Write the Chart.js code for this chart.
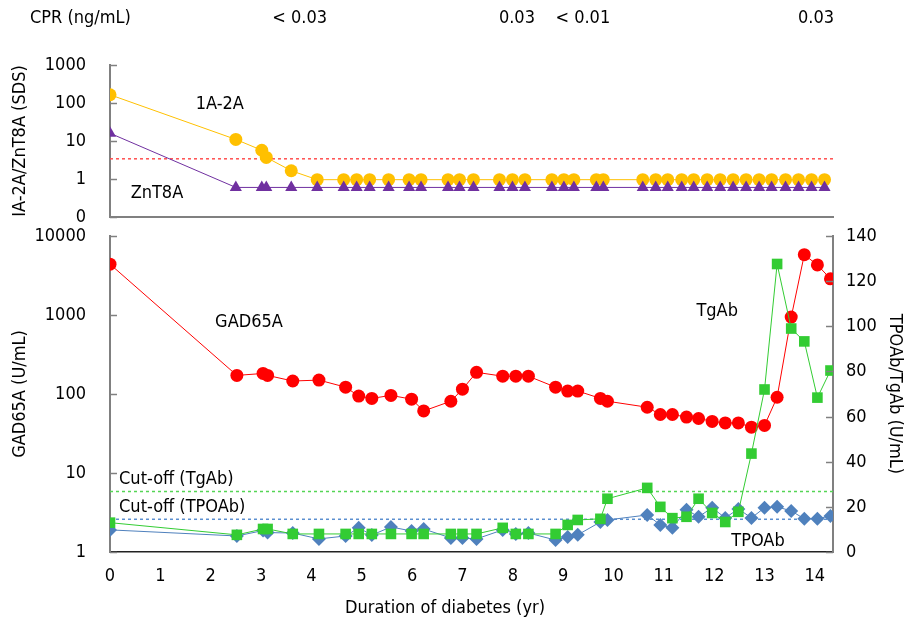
<!DOCTYPE html>
<html>
<head>
<meta charset="utf-8">
<script src="https://cdn.jsdelivr.net/npm/chart.js@4.4.1/dist/chart.umd.min.js"></script>
<style>
  body { margin: 0; background: #fff; }
  #wrap { position: relative; width: 915px; height: 621px; }
  #topBox { position: absolute; left: 0; top: 0; width: 915px; height: 235px; }
  #botBox { position: absolute; left: 0; top: 215px; width: 915px; height: 406px; }
</style>
</head>
<body>
<div id="wrap">
  <div id="topBox"><canvas id="topChart"></canvas></div>
  <div id="botBox"><canvas id="botChart"></canvas></div>
</div>
<script>
// sampling times (years since diagnosis)
const days = [0, 2.52, 3.04, 3.13, 3.63, 4.15, 4.68, 4.94, 5.20, 5.58, 5.99, 6.23, 6.77, 7.00, 7.28, 7.80, 8.06, 8.31, 8.85,
  9.09, 9.29, 9.74, 9.88, 10.67, 10.93, 11.17, 11.45, 11.69, 11.96, 12.22, 12.48, 12.74, 13.00, 13.25, 13.53, 13.79, 14.05, 14.31];

// top panel (SDS)
const ia2a = [165, 11, 5.7, 3.7, 1.65, 0.96, 0.96, 0.96, 0.96, 0.96, 0.96, 0.96, 0.96, 0.96, 0.96, 0.96, 0.96, 0.96, 0.96,
  0.96, 0.96, 0.96, 0.96, 0.96, 0.96, 0.96, 0.96, 0.96, 0.96, 0.96, 0.96, 0.96, 0.96, 0.96, 0.96, 0.96, 0.96, 0.96];
const znt8a = [16, 0.6, 0.6, 0.6, 0.6, 0.6, 0.6, 0.6, 0.6, 0.6, 0.6, 0.6, 0.6, 0.6, 0.6, 0.6, 0.6, 0.6, 0.6,
  0.6, 0.6, 0.6, 0.6, 0.6, 0.6, 0.6, 0.6, 0.6, 0.6, 0.6, 0.6, 0.6, 0.6, 0.6, 0.6, 0.6, 0.6, 0.6];
const ia2aCutoff = 3.4;

// bottom panel (U/mL)
const gad65a = [4400, 172, 182, 172, 146, 150, 122, 94, 88, 96, 86, 61, 81, 115, 188, 168, 168, 168, 122,
  109, 109, 88, 81, 68, 55, 55, 51, 49, 45, 43, 43, 38, 40, 91, 940, 5800, 4300, 2870];
const tgab = [13, 7.6, 10.2, 10.2, 8, 8, 8, 8, 8, 8, 8, 8, 8, 8, 8, 10.7, 8, 8, 8,
  12, 14.2, 14.7, 23.6, 28.4, 20, 15, 15.6, 23.6, 17.3, 13.3, 17.8, 43.6, 72, 127.6, 99, 93.3, 68.4, 80.4];
const tpoab = [9.8, 7.1, 9.5, 8.6, 8.4, 5.8, 7.1, 10.7, 7.5, 11.1, 9.3, 10.2, 6.2, 6.2, 5.8, 9.8, 8, 8.4, 5.3,
  6.7, 7.6, 13.3, 14.2, 16.4, 12, 10.7, 18.7, 15.6, 19.6, 15.1, 19.1, 15.1, 19.6, 20, 18.2, 14.7, 14.7, 16];
const tgabCutoff = 26.8;
const tpoabCutoff = 14.5;

// CPR row above the chart
const cprDays = [3.8, 8.15, 9.47, 14.14];
const cprLabels = ['< 0.03', '0.03', '< 0.01', '0.03'];

const topTicks = [0.1, 1, 10, 100, 1000];
const topTickLabels = ['0', '1', '10', '100', '1000'];
const gadTicks = [1, 10, 100, 1000, 10000];
const thyroidTicks = [0, 20, 40, 60, 80, 100, 120, 140];
const xTicks = [0, 1, 2, 3, 4, 5, 6, 7, 8, 9, 10, 11, 12, 13, 14];

const FONT = "'DejaVu Sans Condensed', 'DejaVu Sans', sans-serif";
Chart.defaults.font.family = FONT;
Chart.defaults.font.size = 18;
Chart.defaults.color = '#000';

const topMax = 14.48;
const botMax = 14.36;

function pts(xs, ys) {
  return xs.map((x, i) => ({ x: x, y: ys[i] }));
}

// y axes: short inward tick marks plus the labels, drawn by hand
const yAxisMarks = {
  id: 'yAxisMarks',
  afterDraw(chart) {
    const ctx = chart.ctx;
    ctx.save();
    ctx.strokeStyle = '#808080';
    ctx.lineWidth = 1.5;
    ctx.fillStyle = '#000';
    ctx.font = '18px ' + FONT;
    ctx.textBaseline = 'middle';
    Object.values(chart.scales).forEach(s => {
      if (s.axis !== 'y') return;
      const left = s.position === 'left';
      const edge = left ? s.right : s.left;
      const names = s.options.tickNames;
      ctx.textAlign = left ? 'right' : 'left';
      s.ticks.forEach((t, i) => {
        const y = Math.round(s.getPixelForValue(t.value)) + 0.5;
        ctx.beginPath();
        ctx.moveTo(edge, y);
        ctx.lineTo(edge + (left ? 7 : -7), y);
        ctx.stroke();
        ctx.fillText(names ? names[i] : String(t.value), left ? edge - 24 : edge + 13, y);
      });
    });
    ctx.restore();
  }
};

function notes(list) {
  return {
    id: 'notes',
    afterDatasetsDraw(chart) {
      const ctx = chart.ctx;
      ctx.save();
      ctx.fillStyle = '#000';
      ctx.font = '18px ' + FONT;
      ctx.textBaseline = 'middle';
      list.forEach(n => {
        const px = n.px !== undefined ? n.px : chart.scales.x.getPixelForValue(n.x);
        const py = n.py !== undefined ? n.py : chart.scales[n.axis].getPixelForValue(n.y);
        ctx.textAlign = n.align || 'center';
        ctx.fillText(n.text, px, py);
      });
      ctx.restore();
    }
  };
}

function cutLine(value, color, max, axis) {
  return {
    data: [{ x: 0, y: value }, { x: max, y: value }],
    yAxisID: axis,
    borderColor: color,
    borderWidth: 1.5,
    borderDash: [3, 3],
    pointRadius: 0,
    fill: false
  };
}

const topNotes = [{ text: 'CPR (ng/mL)', px: 30, py: 18, align: 'left' }]
  .concat(cprDays.map((d, i) => ({ text: cprLabels[i], x: d, py: 18 })))
  .concat([
    { text: '1A-2A', x: 2.2, y: 92, axis: 'y' },
    { text: 'ZnT8A', x: 0.94, y: 0.41, axis: 'y' }
  ]);

new Chart(document.getElementById('topChart'), {
  type: 'line',
  data: {
    datasets: [
      {
        data: pts(days, znt8a),
        borderColor: '#7030A0', backgroundColor: '#7030A0', borderWidth: 1,
        pointStyle: 'triangle', pointRadius: 7, pointBorderWidth: 0
      },
      {
        data: pts(days, ia2a),
        borderColor: '#FFC000', backgroundColor: '#FFC000', borderWidth: 1,
        pointStyle: 'circle', pointRadius: 6.5, pointBorderWidth: 0
      },
      cutLine(ia2aCutoff, '#FF5050', topMax, 'y')
    ]
  },
  options: {
    responsive: true,
    maintainAspectRatio: false,
    animation: false,
    layout: { padding: { top: 65, right: 82, bottom: 18, left: 0 } },
    plugins: { legend: { display: false }, tooltip: { enabled: false } },
    scales: {
      x: {
        type: 'linear', min: 0, max: topMax,
        ticks: { display: false },
        grid: { display: false, drawTicks: false },
        border: { color: '#808080', width: 2 },
        afterFit(s) { s.height = 0; }
      },
      y: {
        type: 'logarithmic', min: 0.1, max: 1000,
        tickNames: topTickLabels,
        afterBuildTicks(s) { s.ticks = topTicks.map(v => ({ value: v })); },
        ticks: { display: false },
        grid: { display: false, drawTicks: false },
        border: { color: '#808080', width: 2 },
        title: { display: true, text: 'IA-2A/ZnT8A (SDS)', padding: { top: 10 } },
        afterFit(s) { s.width = 110; }
      }
    }
  },
  plugins: [yAxisMarks, notes(topNotes)]
});

const botNotes = [
  { text: 'GAD65A', x: 2.76, y: 815, axis: 'y' },
  { text: 'TgAb', x: 12.06, y: 106.7, axis: 'y2' },
  { text: 'Cut-off (TgAb)', x: 0.18, y: 32, axis: 'y2', align: 'left' },
  { text: 'Cut-off (TPOAb)', x: 0.18, y: 19.6, axis: 'y2', align: 'left' },
  { text: 'TPOAb', x: 12.87, y: 4.9, axis: 'y2' },
  { text: 'Duration of diabetes (yr)', px: 445, py: 393 }
];

new Chart(document.getElementById('botChart'), {
  type: 'line',
  data: {
    datasets: [
      {
        data: pts(days, tgab), yAxisID: 'y2',
        borderColor: '#33CC33', backgroundColor: '#33CC33', borderWidth: 1,
        pointStyle: 'rect', pointRadius: 7.5, pointBorderWidth: 0
      },
      {
        data: pts(days, tpoab), yAxisID: 'y2',
        borderColor: '#4F81BD', backgroundColor: '#4F81BD', borderWidth: 1,
        pointStyle: 'rectRot', pointRadius: 7, pointBorderWidth: 0
      },
      {
        data: pts(days, gad65a), yAxisID: 'y',
        borderColor: '#FF0000', backgroundColor: '#FF0000', borderWidth: 1,
        pointStyle: 'circle', pointRadius: 6.5, pointBorderWidth: 0
      },
      cutLine(tgabCutoff, '#55D555', botMax, 'y2'),
      cutLine(tpoabCutoff, '#5B8FD0', botMax, 'y2')
    ]
  },
  options: {
    responsive: true,
    maintainAspectRatio: false,
    animation: false,
    layout: { padding: { top: 21, right: 0, bottom: 0, left: 0 } },
    plugins: { legend: { display: false }, tooltip: { enabled: false } },
    scales: {
      x: {
        type: 'linear', min: 0, max: botMax,
        afterBuildTicks(s) { s.ticks = xTicks.map(v => ({ value: v })); },
        ticks: { padding: 14 },
        grid: { display: false, drawTicks: false },
        border: { color: '#222', width: 1.5 },
        afterFit(s) { s.height = 69; }
      },
      y: {
        type: 'logarithmic', position: 'left', min: 1, max: 10000,
        afterBuildTicks(s) { s.ticks = gadTicks.map(v => ({ value: v })); },
        ticks: { display: false },
        grid: { display: false, drawTicks: false },
        border: { color: '#808080', width: 2 },
        title: { display: true, text: 'GAD65A (U/mL)', padding: { top: 10 } },
        afterFit(s) { s.width = 110; }
      },
      y2: {
        type: 'linear', position: 'right', min: 0, max: 140,
        afterBuildTicks(s) { s.ticks = thyroidTicks.map(v => ({ value: v })); },
        ticks: { display: false },
        grid: { display: false, drawTicks: false },
        border: { color: '#808080', width: 2 },
        title: { display: true, text: 'TPOAb/TgAb (U/mL)', padding: { top: 10 } },
        afterFit(s) { s.width = 82; }
      }
    }
  },
  plugins: [yAxisMarks, notes(botNotes)]
});
</script>
</body>
</html>
